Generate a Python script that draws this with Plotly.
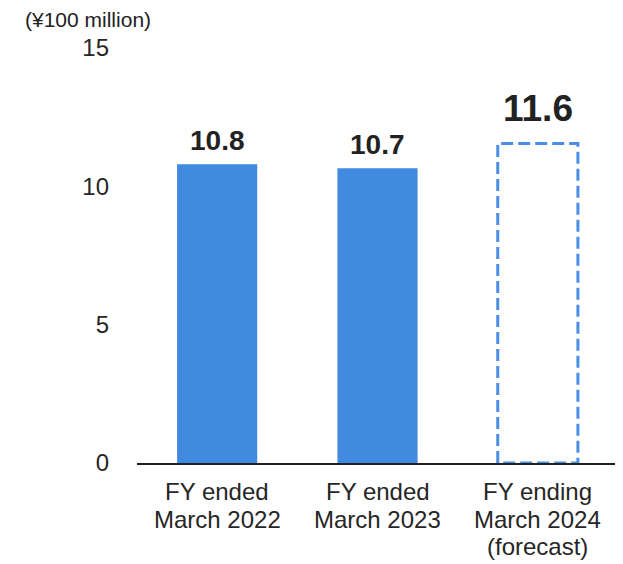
import plotly.graph_objects as go

categories = ["FY ended<br>March 2022", "FY ended<br>March 2023", "FY ending<br>March 2024<br>(forecast)"]
actual_values = [10.8, 10.65]
forecast_value = 11.55
label_texts = ["10.8", "10.7", "11.6"]
y_ticks = [0, 5, 10, 15]
unit_label = "(¥100 million)"

BAR_W = 0.5
BLUE = "#418ae0"
FONT = "Liberation Sans, Arial, sans-serif"
TXT = "#262626"

fig = go.Figure()

idx_actual = list(range(len(actual_values)))
fig.add_trace(go.Bar(
    x=idx_actual, y=actual_values, width=BAR_W,
    marker=dict(color=BLUE, line=dict(width=0)),
    showlegend=False, hoverinfo="skip",
))

# forecast bar outline (dashed), derived from data
fi = len(actual_values)
half = BAR_W / 2
fx = [fi - half, fi - half, fi + half, fi + half, fi - half]
fy = [0, forecast_value, forecast_value, 0, 0]
fig.add_trace(go.Scatter(
    x=fx, y=fy, mode="lines",
    line=dict(color="#4a8fe3", width=3, dash="12px,5px"),
    showlegend=False, hoverinfo="skip",
))

# value labels
all_values = actual_values + [forecast_value]
for i, (v, t) in enumerate(zip(all_values, label_texts)):
    big = i == fi
    fig.add_annotation(
        x=i, y=v, text=f"<b>{t}</b>", showarrow=False,
        xanchor="center", yanchor="middle",
        yshift=35 if big else 23.5,
        font=dict(family=FONT, size=37 if big else 28, color="#222222"),
    )

# category labels (one annotation per line for tighter line spacing)
LINE_GAP = 27.3
for i, cat in enumerate(categories):
    for k, line in enumerate(cat.split("<br>")):
        fig.add_annotation(
            x=i, xref="x", y=0, yref="paper", text=line, showarrow=False,
            xanchor="center", yanchor="middle",
            yshift=-(28.7 + k * LINE_GAP),
            font=dict(family=FONT, size=24, color=TXT),
        )

fig.add_annotation(
    xref="paper", yref="paper", x=-0.235, y=1.0675,
    text=unit_label, showarrow=False, xanchor="left", yanchor="middle",
    borderpad=0,
    font=dict(family=FONT, size=21, color="#222222"),
)

fig.update_layout(
    width=615, height=556,
    margin=dict(l=129, r=5, t=40, b=101),
    plot_bgcolor="white", paper_bgcolor="white",
    font=dict(family=FONT, size=24, color=TXT),
)
fig.update_xaxes(
    range=[-0.5, 2.5],
    tickmode="array", tickvals=list(range(len(categories))),
    showticklabels=False,
    showline=True, linecolor="#222222", linewidth=2,
    showgrid=False, zeroline=False, ticks="",
)
fig.update_yaxes(
    range=[0, 15], tickmode="array", tickvals=y_ticks,
    showgrid=False, zeroline=False, showline=False, ticks="",
    ticklabelstandoff=27,
    tickfont=dict(family=FONT, size=24, color=TXT),
)

fig.write_html("out.html")
